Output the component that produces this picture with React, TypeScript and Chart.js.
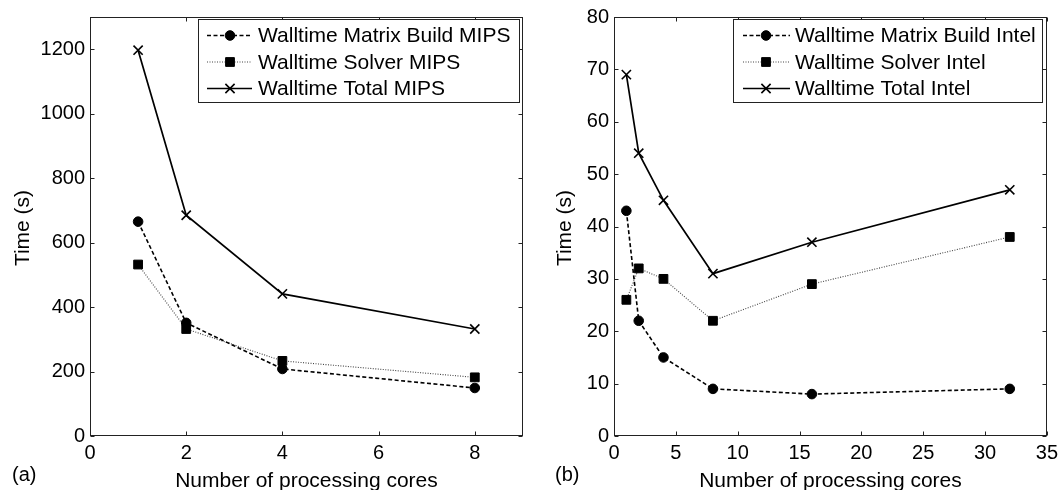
import React, { useEffect, useRef } from "react";
import { Chart, registerables } from "chart.js";

Chart.register(...registerables);

// ---- data ----
const mipsCores = [1, 2, 4, 8];
const mipsMatrix = [665, 351, 208, 149];
const mipsSolver = [532, 332, 233, 182];
const mipsTotal = [1197, 685, 441, 332];

const intelCores = [1, 2, 4, 8, 16, 32];
const intelMatrix = [43, 22, 15, 9, 8, 9];
const intelSolver = [26, 32, 30, 22, 29, 38];
const intelTotal = [69, 54, 45, 31, 37, 47];

const mipsLabels = ["Walltime Matrix Build MIPS", "Walltime Solver MIPS", "Walltime Total MIPS"];
const intelLabels = ["Walltime Matrix Build Intel", "Walltime Solver Intel", "Walltime Total Intel"];

const mipsXTicks = [0, 2, 4, 6, 8];
const mipsYTicks = [0, 200, 400, 600, 800, 1000, 1200];
const intelXTicks = [0, 5, 10, 15, 20, 25, 30, 35];
const intelYTicks = [0, 10, 20, 30, 40, 50, 60, 70, 80];

const xTitle = "Number of processing cores";
const yTitle = "Time (s)";

const FONT = "'Liberation Sans', Arial, Helvetica, sans-serif";

type PanelCfg = {
  left: number;
  width: number;
  cores: number[];
  matrix: number[];
  solver: number[];
  total: number[];
  labels: string[];
  xMax: number;
  yMax: number;
  xTicks: number[];
  yTicks: number[];
  tag: string;
  tagX: number;
  yAxisW: number;
  padRight: number;
  yTitleX: number;
  legend: { l: number; t: number; r: number; b: number; x0: number; x1: number; xm: number; xt: number; rows: number[] };
};

const panels: PanelCfg[] = [
  {
    left: 0,
    width: 531,
    cores: mipsCores,
    matrix: mipsMatrix,
    solver: mipsSolver,
    total: mipsTotal,
    labels: mipsLabels,
    xMax: 9,
    yMax: 1300,
    xTicks: mipsXTicks,
    yTicks: mipsYTicks,
    tag: "(a)",
    tagX: 12,
    yAxisW: 90,
    padRight: 6,
    yTitleX: 23,
    legend: { l: 198, t: 19, r: 519, b: 102, x0: 207, x1: 252, xm: 230, xt: 258, rows: [35.5, 62, 88.5] },
  },
  {
    left: 531,
    width: 532,
    cores: intelCores,
    matrix: intelMatrix,
    solver: intelSolver,
    total: intelTotal,
    labels: intelLabels,
    xMax: 35,
    yMax: 80,
    xTicks: intelXTicks,
    yTicks: intelYTicks,
    tag: "(b)",
    tagX: 24,
    yAxisW: 83,
    padRight: 13,
    yTitleX: 34,
    legend: { l: 202, t: 19, r: 511, b: 102, x0: 212, x1: 259, xm: 235, xt: 264, rows: [35.5, 62, 88.5] },
  },
];

type SeriesStyle = { color: string; lineColor: string; width: number; dash: number[]; point: string; radius: number; pw: number };
const styles: SeriesStyle[] = [
  { color: "#000", lineColor: "#000", width: 1.6, dash: [4, 2.5], point: "circle", radius: 4.8, pw: 1 },
  { color: "#000", lineColor: "#444", width: 1.1, dash: [1, 1.5], point: "rect", radius: 6.2, pw: 1 },
  { color: "#000", lineColor: "#000", width: 1.7, dash: [], point: "crossRot", radius: 6.5, pw: 1.6 },
];

function drawMarker(ctx: CanvasRenderingContext2D, kind: string, x: number, y: number, r: number, pw: number) {
  ctx.save();
  ctx.setLineDash([]);
  ctx.fillStyle = "#000";
  ctx.strokeStyle = "#000";
  ctx.lineWidth = pw;
  if (kind === "circle") {
    ctx.beginPath();
    ctx.arc(x, y, r, 0, Math.PI * 2);
    ctx.fill();
    ctx.stroke();
  } else if (kind === "rect") {
    const s = Math.SQRT1_2 * r;
    ctx.beginPath();
    ctx.rect(x - s, y - s, 2 * s, 2 * s);
    ctx.fill();
    ctx.stroke();
  } else {
    const s = Math.SQRT1_2 * r;
    ctx.beginPath();
    ctx.moveTo(x - s, y - s);
    ctx.lineTo(x + s, y + s);
    ctx.moveTo(x - s, y + s);
    ctx.lineTo(x + s, y - s);
    ctx.stroke();
  }
  ctx.restore();
}

function makeDecor(cfg: PanelCfg) {
  return {
    id: "decor",
    afterDraw(chart: any) {
      const { ctx, chartArea: a } = chart;
      const xs = chart.scales.x;
      const ys = chart.scales.y;
      ctx.save();
      // frame
      ctx.strokeStyle = "#222";
      ctx.lineWidth = 1;
      ctx.setLineDash([]);
      const L = Math.round(a.left) + 0.5;
      const R = Math.round(a.right) - 0.5;
      const T = Math.round(a.top) + 0.5;
      const B = Math.round(a.bottom) - 0.5;
      ctx.strokeRect(L, T, R - L, B - T);
      const tl = 4;
      ctx.beginPath();
      xs.ticks.forEach((t: any) => {
        const px = Math.round(xs.getPixelForValue(t.value)) + 0.5;
        ctx.moveTo(px, B);
        ctx.lineTo(px, B - tl);
        ctx.moveTo(px, T);
        ctx.lineTo(px, T + tl);
      });
      ys.ticks.forEach((t: any) => {
        const py = Math.round(ys.getPixelForValue(t.value)) + 0.5;
        ctx.moveTo(L, py);
        ctx.lineTo(L + tl, py);
        ctx.moveTo(R, py);
        ctx.lineTo(R - tl, py);
      });
      ctx.stroke();

      // legend
      const lg = cfg.legend;
      ctx.fillStyle = "#fff";
      ctx.fillRect(lg.l, lg.t, lg.r - lg.l, lg.b - lg.t);
      ctx.strokeStyle = "#222";
      ctx.lineWidth = 1;
      ctx.strokeRect(lg.l + 0.5, lg.t + 0.5, lg.r - lg.l, lg.b - lg.t);
      chart.data.datasets.forEach((ds: any, i: number) => {
        const st = styles[i];
        const yy = lg.rows[i];
        ctx.save();
        ctx.strokeStyle = st.lineColor;
        ctx.lineWidth = st.width;
        ctx.setLineDash(st.dash);
        ctx.beginPath();
        ctx.moveTo(lg.x0, yy);
        ctx.lineTo(lg.x1, yy);
        ctx.stroke();
        ctx.restore();
        drawMarker(ctx, st.point, lg.xm, yy, st.radius, st.pw);
        ctx.fillStyle = "#000";
        ctx.font = `21px ${FONT}`;
        ctx.textAlign = "left";
        ctx.textBaseline = "middle";
        ctx.fillText(ds.label, lg.xt, yy + 1);
      });

      // axis titles
      ctx.fillStyle = "#000";
      ctx.font = `21px ${FONT}`;
      ctx.textAlign = "center";
      ctx.textBaseline = "alphabetic";
      ctx.fillText(xTitle, (a.left + a.right) / 2, 487);
      ctx.save();
      ctx.translate(cfg.yTitleX, 228);
      ctx.rotate(-Math.PI / 2);
      ctx.textBaseline = "middle";
      ctx.fillText(yTitle, 0, 0);
      ctx.restore();
      // tag
      ctx.font = `20px ${FONT}`;
      ctx.textAlign = "left";
      ctx.fillText(cfg.tag, cfg.tagX, 481);
      ctx.restore();
    },
  };
}

function Panel({ cfg }: { cfg: PanelCfg }) {
  const ref = useRef<HTMLCanvasElement>(null);
  useEffect(() => {
    const series = [cfg.matrix, cfg.solver, cfg.total];
    const datasets = series.map((vals, i) => {
      const st = styles[i];
      return {
        label: cfg.labels[i],
        data: cfg.cores.map((c, j) => ({ x: c, y: vals[j] })),
        showLine: true,
        borderColor: st.lineColor,
        borderWidth: st.width,
        borderDash: st.dash,
        tension: 0,
        pointStyle: st.point,
        pointRadius: st.radius,
        pointHoverRadius: st.radius,
        pointBackgroundColor: st.color,
        pointBorderColor: st.color,
        pointBorderWidth: st.pw,
      };
    });
    const tickFont = { family: FONT, size: 20 };
    const chart = new Chart(ref.current!, {
      type: "scatter",
      data: { datasets: datasets as any },
      options: {
        responsive: false,
        animation: false,
        devicePixelRatio: 1,
        layout: { padding: { left: 0, top: 12, right: cfg.padRight, bottom: 0 } },
        plugins: { legend: { display: false }, tooltip: { enabled: false } },
        scales: {
          x: {
            type: "linear",
            min: 0,
            max: cfg.xMax,
            afterBuildTicks: (s: any) => {
              s.ticks = cfg.xTicks.map((v) => ({ value: v }));
            },
            afterFit: (s: any) => {
              s.height = 54;
            },
            grid: { display: false, drawTicks: false },
            border: { display: false },
            ticks: { padding: 5, color: "#000", font: tickFont, maxRotation: 0, autoSkip: false, callback: (v: any) => String(v) },
          },
          y: {
            type: "linear",
            min: 0,
            max: cfg.yMax,
            afterBuildTicks: (s: any) => {
              s.ticks = cfg.yTicks.map((v) => ({ value: v }));
            },
            afterFit: (s: any) => {
              s.width = cfg.yAxisW;
            },
            grid: { display: false, drawTicks: false },
            border: { display: false },
            ticks: { padding: 5, color: "#000", font: tickFont, autoSkip: false, callback: (v: any) => String(v) },
          },
        },
      } as any,
      plugins: [makeDecor(cfg)],
    });
    return () => chart.destroy();
  }, [cfg]);
  return (
    <canvas
      ref={ref}
      width={cfg.width}
      height={490}
      style={{ position: "absolute", left: cfg.left, top: 0, width: cfg.width, height: 490 }}
    />
  );
}

export default function App() {
  return (
    <div style={{ position: "absolute", left: 0, top: 0, width: 1063, height: 490, background: "#fff", overflow: "hidden" }}>
      {panels.map((p, i) => (
        <Panel key={i} cfg={p} />
      ))}
    </div>
  );
}
